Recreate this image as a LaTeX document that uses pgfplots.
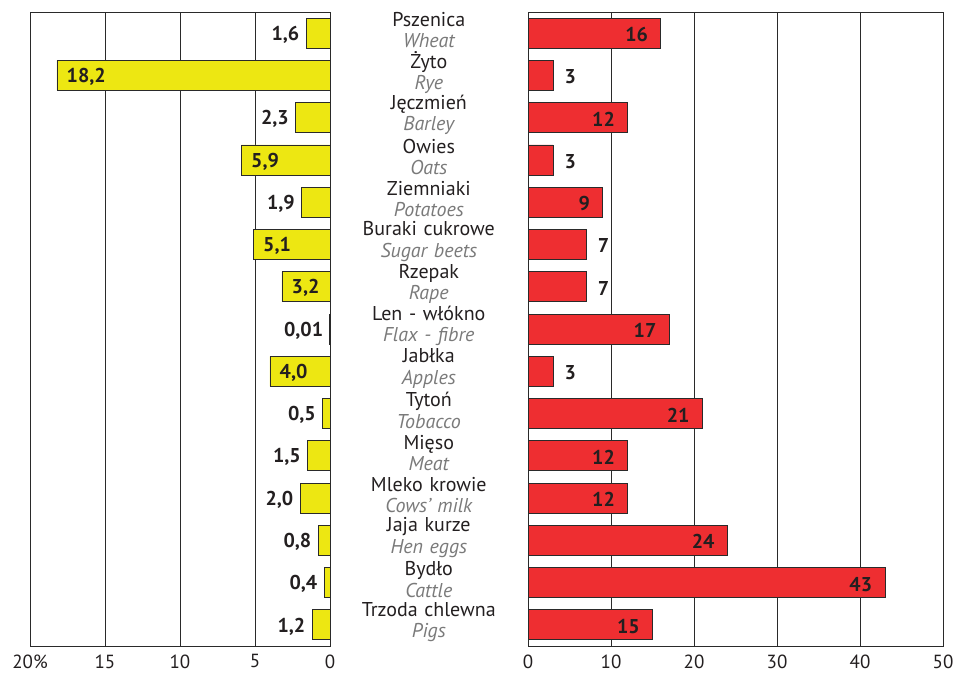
\documentclass[border=0pt]{standalone}
\usepackage{pgfplots}
\pgfplotsset{compat=1.18}
\usepackage{fontspec}
\setmainfont{PT Sans}
\definecolor{yel}{HTML}{EDE712}
\definecolor{barred}{HTML}{EE2E31}
\definecolor{grayt}{HTML}{7A7A7A}
\definecolor{edge}{HTML}{2A2A2A}
\definecolor{txt}{HTML}{231F20}
\begin{document}
\begin{tikzpicture}[x=1pt,y=1pt]
\useasboundingbox (0,0) rectangle (955,673);
\pgfplotsset{
 common/.style={
  scale only axis, height=634pt, ymin=-0.5, ymax=14.5, y dir=reverse,
  xbar, bar width=30pt, bar shift=0pt,
  xmajorgrids, major grid style={edge, line width=0.8pt},
  axis line style={edge, line width=0.8pt},
  major tick length=0pt,
  xticklabel style={font=\fontsize{19}{19}\selectfont, text=txt, yshift=-5pt},
  /pgf/number format/assume math mode=true,
  nodes near coords, point meta=explicit symbolic,
  clip=false,
 },
 outl/.style={every node near coord/.style={font=\fontsize{20}{22}\selectfont\bfseries, text=txt, anchor=east, xshift=-3pt, yshift=-1.5pt}},
 inl/.style={every node near coord/.style={font=\fontsize{20}{22}\selectfont\bfseries, text=txt, anchor=west, xshift=6pt, yshift=-1.5pt}},
 outr/.style={every node near coord/.style={font=\fontsize{20}{22}\selectfont\bfseries, text=txt, anchor=west, xshift=8pt, yshift=-1.5pt}},
 inr/.style={every node near coord/.style={font=\fontsize{20}{22}\selectfont\bfseries, text=txt, anchor=east, xshift=-9pt, yshift=-1.5pt}},
}
\begin{axis}[common, at={(30pt,27pt)}, anchor=south west, width=300pt,
  x dir=reverse, xmin=0, xmax=20, xtick={0,5,10,15,20}, xticklabels={0,5,10,15,20\%}, ytick=\empty]
\addplot[fill=yel, draw=edge, line width=0.8pt, outl] coordinates {
 (1.6,0) [1,6] (2.3,2) [2,3] (1.9,4) [1,9] (0.01,7) [0,01] (0.5,9) [0,5]
 (1.5,10) [1,5] (2.0,11) [2,0] (0.8,12) [0,8] (0.4,13) [0,4] (1.2,14) [1,2]};
\addplot[fill=yel, draw=edge, line width=0.8pt, inl] coordinates {
 (18.2,1) [18,2] (5.9,3) [5,9] (5.1,5) [5,1] (3.2,6) [3,2] (4.0,8) [4,0]};
\end{axis}
\begin{axis}[common, at={(528pt,27pt)}, anchor=south west, width=415pt,
  xmin=0, xmax=50, xtick={0,10,20,30,40,50},
  ytick={0,...,14},
  yticklabel style={anchor=east, text width=198pt, align=center, inner sep=0pt, yshift=3pt, font=\fontsize{20}{21.5}\selectfont, text=txt},
  yticklabels={
   {Pszenica\\\textcolor{grayt}{\itshape Wheat}},
   {Żyto\\\textcolor{grayt}{\itshape Rye}},
   {Jęczmień\\\textcolor{grayt}{\itshape Barley}},
   {Owies\\\textcolor{grayt}{\itshape Oats}},
   {Ziemniaki\\\textcolor{grayt}{\itshape Potatoes}},
   {Buraki cukrowe\\\textcolor{grayt}{\itshape Sugar beets}},
   {Rzepak\\\textcolor{grayt}{\itshape Rape}},
   {Len - włókno\\\textcolor{grayt}{\itshape Flax - fibre}},
   {Jabłka\\\textcolor{grayt}{\itshape Apples}},
   {Tytoń\\\textcolor{grayt}{\itshape Tobacco}},
   {Mięso\\\textcolor{grayt}{\itshape Meat}},
   {Mleko krowie\\\textcolor{grayt}{\itshape Cows' milk}},
   {Jaja kurze\\\textcolor{grayt}{\itshape Hen eggs}},
   {Bydło\\\textcolor{grayt}{\itshape Cattle}},
   {Trzoda chlewna\\\textcolor{grayt}{\itshape Pigs}}}]
\addplot[fill=barred, draw=edge, line width=0.8pt, inr] coordinates {
 (16,0) [16] (12,2) [12] (9,4) [9] (17,7) [17] (21,9) [21]
 (12,10) [12] (12,11) [12] (24,12) [24] (43,13) [43] (15,14) [15]};
\addplot[fill=barred, draw=edge, line width=0.8pt, outr] coordinates {
 (3,1) [3] (3,3) [3] (7,5) [7] (7,6) [7] (3,8) [3]};
\end{axis}
\end{tikzpicture}
\end{document}
